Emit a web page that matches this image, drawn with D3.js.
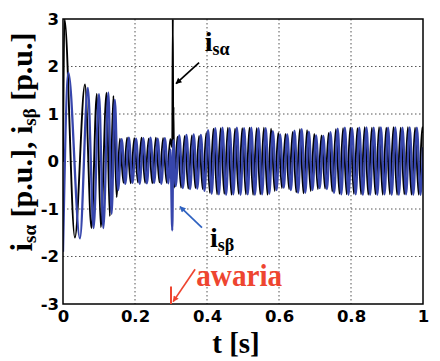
<!DOCTYPE html>
<html><head><meta charset="utf-8">
<script src="https://cdn.jsdelivr.net/npm/d3@7"></script>
<style>body{margin:0;background:#fff}svg{display:block}</style>
</head><body><svg id="c" width="440" height="361"></svg>
<script>
// ---- data ----
const xTicks = [0, 0.2, 0.4, 0.6, 0.8, 1];
const xTickLabels = ["0", "0.2", "0.4", "0.6", "0.8", "1"];
const yTicks = [-3, -2, -1, 0, 1, 2, 3];
const yTickLabels = ["-3", "-2", "-1", "0", "1", "2", "3"];

// i_s_alpha (black): [t, value] at extrema
const isAlpha = [[0,0],[0.004,3.0],[0.033,-1.6],[0.061,1.62],[0.079,-1.4],[0.094,1.42],[0.105,-1.38],[0.121,1.45],[0.130,-1.15],[0.140,1.38],[0.149,-0.75],
[0.158,0.48],[0.168,-0.45],[0.178,0.5],[0.188,-0.46],[0.198,0.49],[0.208,-0.44],[0.218,0.5],[0.228,-0.45],[0.238,0.48],[0.248,-0.46],[0.258,0.5],[0.268,-0.44],[0.278,0.49],[0.288,-0.45],[0.298,0.47],
[0.3035,0.3],[0.305,3.0],[0.3062,0.6],[0.307,1.15],[0.3085,-0.55],
[0.318,0.52],[0.328,-0.55],[0.338,0.54],[0.348,-0.57],[0.358,0.55],[0.368,-0.56],[0.378,0.54],[0.388,-0.58],[0.398,0.60],[0.408,-0.66],
[0.418,0.69],[0.428,-0.69],[0.438,0.70],[0.448,-0.68],[0.458,0.71],[0.468,-0.70],[0.478,0.69],[0.488,-0.68],[0.498,0.70],[0.508,-0.69],
[0.518,0.71],[0.528,-0.70],[0.538,0.70],[0.548,-0.69],[0.558,0.71],[0.568,-0.70],[0.578,0.69],[0.588,-0.62],[0.598,0.60],[0.608,-0.56],
[0.618,0.58],[0.628,-0.58],[0.638,0.62],[0.648,-0.65],[0.658,0.68],[0.668,-0.67],[0.678,0.66],[0.688,-0.62],[0.698,0.58],[0.708,-0.58],
[0.718,0.55],[0.728,-0.57],[0.738,0.60],[0.748,-0.63],[0.758,0.68],[0.768,-0.68],[0.778,0.70],[0.788,-0.69],[0.798,0.71],[0.808,-0.68],
[0.818,0.70],[0.828,-0.69],[0.838,0.72],[0.848,-0.70],[0.858,0.71],[0.868,-0.69],[0.878,0.72],[0.888,-0.70],[0.898,0.71],[0.908,-0.69],
[0.918,0.72],[0.928,-0.70],[0.938,0.71],[0.948,-0.69],[0.958,0.72],[0.968,-0.70],[0.978,0.71],[0.988,-0.70],[0.998,0.72],[1.0,0.6]];

// i_s_beta (blue): [t, value] at extrema
const isBeta = [[0,-1.9],[0.015,1.87],[0.047,-1.62],[0.069,1.55],[0.085,-1.4],[0.100,1.42],[0.112,-1.4],[0.126,1.45],[0.135,-1.1],[0.144,1.3],[0.153,-0.6],
[0.163,0.47],[0.173,-0.47],[0.183,0.5],[0.193,-0.45],[0.203,0.48],[0.213,-0.47],[0.223,0.49],[0.233,-0.46],[0.243,0.5],[0.253,-0.45],[0.263,0.48],[0.273,-0.47],[0.283,0.49],[0.293,-0.46],
[0.2985,0.25],[0.3035,-1.45],[0.3065,0.45],
[0.313,-0.52],[0.323,0.55],[0.333,-0.56],[0.343,0.56],[0.353,-0.58],[0.363,0.57],[0.373,-0.57],[0.383,0.56],[0.393,-0.62],[0.403,0.66],
[0.413,-0.68],[0.423,0.70],[0.433,-0.69],[0.443,0.71],[0.453,-0.70],[0.463,0.70],[0.473,-0.69],[0.483,0.71],[0.493,-0.70],[0.503,0.70],
[0.513,-0.69],[0.523,0.71],[0.533,-0.70],[0.543,0.70],[0.553,-0.69],[0.563,0.70],[0.573,-0.68],[0.583,0.64],[0.593,-0.60],[0.603,0.57],
[0.613,-0.55],[0.623,0.57],[0.633,-0.60],[0.643,0.65],[0.653,-0.66],[0.663,0.68],[0.673,-0.66],[0.683,0.63],[0.693,-0.60],[0.703,0.55],
[0.713,-0.56],[0.723,0.54],[0.733,-0.58],[0.743,0.62],[0.753,-0.66],[0.763,0.69],[0.773,-0.69],[0.783,0.71],[0.793,-0.70],[0.803,0.70],
[0.813,-0.69],[0.823,0.71],[0.833,-0.70],[0.843,0.72],[0.853,-0.70],[0.863,0.71],[0.873,-0.70],[0.883,0.72],[0.893,-0.69],[0.903,0.71],
[0.913,-0.70],[0.923,0.72],[0.933,-0.70],[0.943,0.71],[0.953,-0.69],[0.963,0.72],[0.973,-0.70],[0.983,0.71],[0.993,-0.70],[1.0,0.3]];

// annotations in data units: [t, value]
const alphaArrow = [[0.378, 2.08], [0.314, 1.64]];
const alphaLabel = [0.394, 2.32];
const betaArrow = [[0.386, -1.39], [0.325, -0.95]];
const betaLabel = [0.408, -1.79];
const faultTime = 0.3;
const faultTick = [-3, -2.63];
const faultArrow = [[0.367, -2.27], [0.306, -2.95]];
const faultLabel = [0.37, -2.63];

// ---- layout ----
const L = 63, R = 423, T = 19, B = 304;
const svg = d3.select("#c");
const x = d3.scaleLinear([0, 1], [L, R]);
const y = d3.scaleLinear([-3, 3], [B, T]);

const defs = svg.append("defs");
defs.append("clipPath").attr("id", "pa").append("rect")
  .attr("x", L).attr("y", T).attr("width", R - L).attr("height", B - T);
function marker(id, color) {
  defs.append("marker").attr("id", id).attr("viewBox", "0 0 10 10")
    .attr("refX", 9).attr("refY", 5).attr("markerWidth", 8).attr("markerHeight", 6)
    .attr("orient", "auto").attr("markerUnits", "userSpaceOnUse")
    .append("path").attr("d", "M0,0L10,5L0,10z").attr("fill", color);
}
marker("mk", "#000"); marker("mb", "#2f62c0"); marker("mr", "#ee4530");

// grid
const grid = svg.append("g").attr("stroke", "#555").attr("stroke-width", 1).attr("stroke-dasharray", "1.5,2.5");
grid.selectAll("line.v").data(xTicks.slice(1, -1)).join("line")
  .attr("x1", d => x(d)).attr("x2", d => x(d)).attr("y1", T).attr("y2", B);
grid.selectAll("line.h").data(yTicks.slice(1, -1)).join("line")
  .attr("y1", d => y(d)).attr("y2", d => y(d)).attr("x1", L).attr("x2", R);

// signals
const line = d3.line().x(d => x(d[0])).y(d => y(d[1])).curve(d3.curveMonotoneX);
const sig = svg.append("g").attr("clip-path", "url(#pa)").attr("fill", "none").attr("stroke-linejoin", "round");
sig.append("path").datum(isAlpha).attr("d", line).attr("stroke", "#000").attr("stroke-width", 1.9);
sig.append("path").datum(isBeta).attr("d", line).attr("stroke", "#3746ac").attr("stroke-width", 2.3);

// frame
svg.append("rect").attr("x", L).attr("y", T).attr("width", R - L).attr("height", B - T)
  .attr("fill", "none").attr("stroke", "#000").attr("stroke-width", 1.5);

// axes tick labels
const ax = svg.append("g").attr("transform", `translate(0,${B})`)
  .call(d3.axisBottom(x).tickValues(xTicks).tickSize(0).tickPadding(6).tickFormat((d, i) => xTickLabels[i]));
const ay = svg.append("g").attr("transform", `translate(${L},0)`)
  .call(d3.axisLeft(y).tickValues(yTicks).tickSize(0).tickPadding(4).tickFormat((d, i) => yTickLabels[i]));
[ax, ay].forEach(g => {
  g.select(".domain").remove();
  g.selectAll("text").attr("font-family", "DejaVu Sans").attr("font-weight", "bold")
    .attr("font-size", 16.5).attr("fill", "#000");
});

// annotations
const serif = "Liberation Serif, Times New Roman, serif";
function arrow(pts, color, mk) {
  svg.append("line").attr("x1", x(pts[0][0])).attr("y1", y(pts[0][1]))
    .attr("x2", x(pts[1][0])).attr("y2", y(pts[1][1]))
    .attr("stroke", color).attr("stroke-width", 1.7).attr("marker-end", `url(#${mk})`);
}
function subLabel(pos, sub, color) {
  const t = svg.append("text").attr("x", x(pos[0])).attr("y", y(pos[1]))
    .attr("font-family", serif).attr("font-weight", "bold").attr("fill", color);
  t.append("tspan").attr("font-size", 28).text("i");
  t.append("tspan").attr("font-size", 18).attr("dy", 4).text(sub);
}
arrow(alphaArrow, "#000", "mk");
subLabel(alphaLabel, "sα", "#000");
arrow(betaArrow, "#2f62c0", "mb");
subLabel(betaLabel, "sβ", "#000");
svg.append("line").attr("x1", x(faultTime)).attr("x2", x(faultTime))
  .attr("y1", y(faultTick[0])).attr("y2", y(faultTick[1]))
  .attr("stroke", "#ee4530").attr("stroke-width", 2);
arrow(faultArrow, "#ee4530", "mr");
svg.append("text").attr("x", x(faultLabel[0])).attr("y", y(faultLabel[1]))
  .attr("font-family", serif).attr("font-weight", "bold").attr("font-size", 31)
  .attr("textLength", 86).attr("lengthAdjust", "spacingAndGlyphs")
  .attr("fill", "#ee4530").text("awaria");

// axis titles
svg.append("text").attr("x", 236).attr("y", 353).attr("text-anchor", "middle")
  .attr("font-family", serif).attr("font-weight", "bold").attr("font-size", 29).text("t [s]");
const yt = svg.append("text").attr("transform", "translate(32,142) rotate(-90)")
  .attr("text-anchor", "middle").attr("font-family", serif).attr("font-weight", "bold").attr("fill", "#000");
yt.append("tspan").attr("font-size", 31).text("i");
yt.append("tspan").attr("font-size", 19).attr("dy", 4).text("sα");
yt.append("tspan").attr("font-size", 30).attr("dy", -4).text(" [p.u.], i");
yt.append("tspan").attr("font-size", 19).attr("dy", 4).text("sβ");
yt.append("tspan").attr("font-size", 30).attr("dy", -4).text(" [p.u.]");
</script></body></html>
